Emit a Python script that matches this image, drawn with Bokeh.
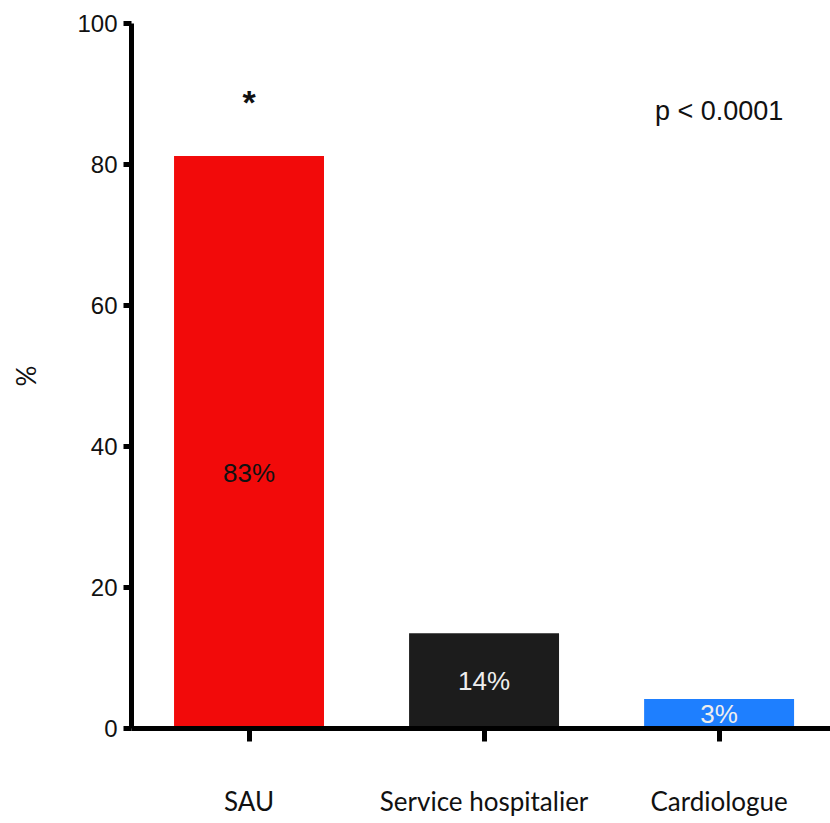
from bokeh.plotting import figure
from bokeh.models import ColumnDataSource, Range1d, FixedTicker
from bokeh.core.properties import value
from bokeh.embed import file_html
from bokeh.resources import INLINE

categories = ["SAU", "Service hospitalier", "Cardiologue"]
bar_values = [81.2, 13.5, 4.2]
bar_labels = ["83%", "14%", "3%"]
label_y = [36.3, 6.8, 2.1]
bar_colors = ["#f20a0a", "#1c1c1c", "#1e7fff"]
label_colors = ["#111111", "#eeeeee", "#eeeeee"]
y_ticks = [0, 20, 40, 60, 80, 100]
star_y = 88.8
pval_text = "p < 0.0001"
pval_y = 87.6

x_pos = [i + 0.5 for i in range(len(categories))]

src = ColumnDataSource(dict(x=x_pos, val=bar_values, color=bar_colors,
                            lab=bar_labels, ly=label_y, lc=label_colors))

p = figure(width=830, height=823, x_range=Range1d(0, 2.974),
           y_range=Range1d(0, 100), output_backend="svg", toolbar_location=None,
           min_border_left=131, min_border_right=0, min_border_top=23,
           min_border_bottom=95)
p.outline_line_color = None
p.xgrid.visible = False
p.ygrid.visible = False

p.vbar(x="x", top="val", width=0.638, color="color", line_color=None, source=src)
p.text(x="x", y="ly", text="lab", text_color="lc", source=src,
       text_font=value("Liberation Sans"), text_font_size="26px",
       text_align="center", text_baseline="middle")
p.text(x=[x_pos[0]], y=[star_y], text=["*"], text_font=value("Liberation Sans"),
       text_font_size="34px", text_font_style="bold", text_align="center",
       text_baseline="middle", text_color="#111111")
p.text(x=[x_pos[2]], y=[pval_y], text=[pval_text], text_font=value("Liberation Sans"),
       text_font_size="27px", text_align="center", text_baseline="middle",
       text_color="#111111")

# y axis
ya = p.yaxis[0]
ya.ticker = FixedTicker(ticks=y_ticks)
ya.axis_line_width = 5
ya.axis_line_color = "black"
ya.major_tick_line_width = 5
ya.major_tick_out = 8
ya.major_tick_in = 0
ya.minor_tick_line_color = None
ya.major_label_text_font = "Liberation Sans"
ya.major_label_text_font_size = "24px"
ya.major_label_text_color = "#111111"
ya.major_label_standoff = 6
ya.axis_label = "%"
ya.axis_label_text_font = "Lato"
ya.axis_label_text_font_size = "26px"
ya.axis_label_text_font_style = "normal"
ya.axis_label_text_color = "#111111"
ya.axis_label_standoff = 32

# x axis
xa = p.xaxis[0]
xa.ticker = FixedTicker(ticks=x_pos)
xa.major_label_overrides = {x: c for x, c in zip(x_pos, categories)}
xa.axis_line_width = 5
xa.axis_line_color = "black"
xa.major_tick_line_width = 5
xa.major_tick_out = 13
xa.major_tick_in = 0
xa.minor_tick_line_color = None
xa.major_label_text_font = "Lato"
xa.major_label_text_font_size = "26px"
xa.major_label_text_color = "#111111"
xa.major_label_standoff = 43

open("out.html", "w").write(file_html(p, INLINE))
